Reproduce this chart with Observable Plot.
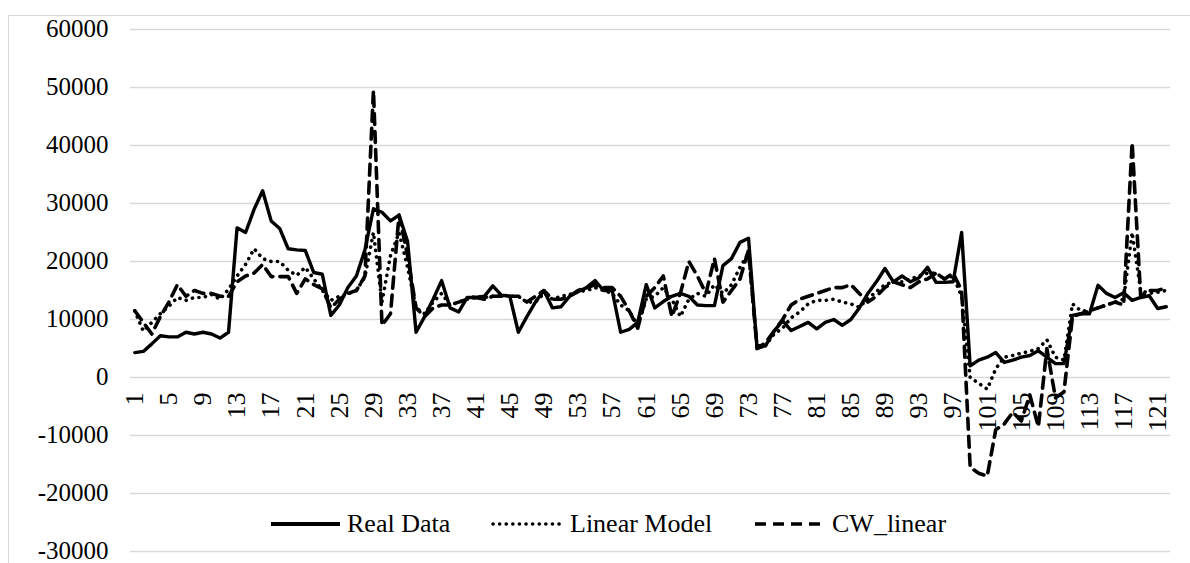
<!DOCTYPE html>
<html>
<head>
<meta charset="utf-8">
<script src="https://cdn.jsdelivr.net/npm/d3@7"></script>
<script src="https://cdn.jsdelivr.net/npm/@observablehq/plot@0.6"></script>
<style>
  body { margin: 0; background: white; }
  #wrap { position: relative; width: 1190px; height: 563px; overflow: hidden; font-family: 'Liberation Serif', 'Times New Roman', serif; }
  .border-top { position: absolute; left: 8px; top: 15px; width: 1182px; height: 0; border-top: 1.5px solid #d9d9d9; }
  .border-left { position: absolute; left: 8px; top: 15px; width: 0; height: 548px; border-left: 1.5px solid #d9d9d9; }
  .leg { position: absolute; font-size: 26px; line-height: 26px; color: black; white-space: nowrap; }
  .legsvg { position: absolute; }
</style>
</head>
<body>
<div id="wrap"></div>
<script>
// Category labels on the x axis
const xTicks = [1,5,9,13,17,21,25,29,33,37,41,45,49,53,57,61,65,69,73,77,81,85,89,93,97,101,105,109,113,117,121];
// Y axis ticks
const yTicks = [-30000,-20000,-10000,0,10000,20000,30000,40000,50000,60000];
const seriesNames = ["Real Data", "Linear Model", "CW_linear"];

// Real Data
const realData = [
  4300, 4500, 5800, 7200, 7000, 7000, 7800, 7500, 7800, 7500,
  6800, 7800, 25800, 25000, 29000, 32200, 27000, 25700, 22200, 22000,
  21900, 18100, 17800, 10700, 12500, 15500, 17500, 22000, 29100, 28500,
  27000, 28000, 23500, 7800, 10500, 13500, 16700, 12000, 11300, 13800,
  13800, 14000, 15800, 14200, 14000, 7800, 10500, 13000, 15000, 12000,
  12200, 14000, 14800, 15500, 16700, 15000, 15000, 7800, 8300, 9500,
  16000, 12000, 13100, 14000, 14500, 14000, 12500, 12400, 12400, 19300,
  20500, 23300, 24000, 5000, 5500, 8000, 9800, 8100, 8800, 9500,
  8400, 9500, 10000, 9000, 10000, 12000, 14500, 16500, 18800, 16500,
  17500, 16500, 17200, 19000, 16400, 16400, 16500, 25000, 2000, 3000,
  3500, 4300, 2600, 3000, 3500, 3800, 4600, 3500, 2400, 2400,
  10700, 11000, 11000, 15900, 14500, 13800, 14600, 13300, 13800, 14100,
  11900, 12200
];

// Linear Model
const linearModel = [
  11500, 8000, 9500, 11000, 12300, 13800, 13300, 13800, 13800, 14300,
  13500, 15200, 17500, 19500, 22200, 20500, 20000, 20000, 18500, 17600,
  19000, 17000, 15000, 13300, 14000, 14400, 15000, 17300, 25000, 13000,
  21000, 25000, 19000, 12000, 11000, 13000, 14500, 12500, 13000, 13500,
  14000, 13800, 14000, 14300, 14000, 14000, 13000, 13000, 14500, 13500,
  14000, 14300, 14800, 15000, 15500, 15000, 14500, 12500, 11500, 9000,
  13500, 14000, 15500, 13500, 10500, 13500, 14500, 14000, 16000, 14500,
  16000, 19000, 21500, 5500, 5500, 7500, 8500, 10300, 11300, 12700,
  13300, 13300, 13500, 13000, 12700, 12100, 13600, 14800, 16000, 16500,
  16500, 17000, 17500, 18000, 18000, 17000, 17500, 14000, 0, -1000,
  -2000, 1500, 3500, 3800, 4200, 4500, 5000, 6500, 3500, 3000,
  12700, 11500, 11500, 12000, 12500, 13000, 13500, 25000, 15000, 14500,
  14700, 15000
];

// CW_linear
const cwLinear = [
  11500, 9500, 7500, 10500, 13000, 16000, 14000, 15000, 14500, 14500,
  14000, 14000, 16500, 17500, 18000, 19500, 17400, 17400, 17400, 14500,
  17000, 16000, 15300, 12000, 13500, 14500, 15000, 17500, 49500, 9000,
  11000, 28000, 21000, 12000, 10500, 12000, 12500, 12500, 13000, 13500,
  13800, 13500, 14000, 14000, 14000, 14000, 13000, 14000, 15000, 13500,
  13500, 14000, 15000, 15500, 16000, 15500, 15500, 14000, 11500, 8500,
  14000, 15500, 17500, 10500, 14500, 20000, 17500, 14500, 20500, 13000,
  15000, 17000, 22000, 5000, 6000, 8000, 10000, 12500, 13500, 14000,
  14500, 15000, 15500, 15500, 16000, 14500, 13000, 14000, 15500, 16500,
  16000, 15500, 16500, 17000, 18000, 17000, 18000, 15000, -15500, -16500,
  -17000, -9000, -8000, -6000, -7500, -3000, -8500, 5000, -3500, -2500,
  10500, 11000, 11500, 12000, 12500, 13000, 12500, 40500, 14000, 15000,
  15000, 15500
];

const rows = realData.map((v, k) => ({i: k + 1, real: v, lin: linearModel[k], cw: cwLinear[k]}));

const chart = Plot.plot({
  width: 1190,
  height: 563,
  marginLeft: 130,
  marginRight: 20,
  marginTop: 29,
  marginBottom: 12,
  x: {domain: [0.5, 122.5], axis: null},
  y: {domain: [-30000, 60000], axis: null},
  style: {fontFamily: "'Liberation Serif', 'Times New Roman', serif", fontSize: "26px", color: "black", background: "white", overflow: "visible"},
  marks: [
    Plot.gridY(yTicks, {stroke: "#d9d9d9", strokeOpacity: 1, strokeWidth: 1.5}),
    Plot.axisY(yTicks, {tickSize: 0, tickPadding: 22, fontSize: 25, dy: -1, tickFormat: d => String(d), label: null}),
    Plot.text(xTicks, {x: d => d, y: 0, text: d => String(d), rotate: -90, textAnchor: "end", dy: 15, fontSize: 26, fill: "black"}),
    Plot.line(rows, {x: "i", y: "cw", stroke: "black", strokeWidth: 3.6, strokeDasharray: "11,7"}),
    Plot.line(rows, {x: "i", y: "lin", stroke: "black", strokeWidth: 3.6, strokeDasharray: "0.1,6.5", strokeLinecap: "round"}),
    Plot.line(rows, {x: "i", y: "real", stroke: "black", strokeWidth: 3.4, strokeLinejoin: "round"})
  ]
});

const wrap = document.getElementById("wrap");
wrap.appendChild(chart);
wrap.insertAdjacentHTML("beforeend", `<div class="border-top"></div><div class="border-left"></div>`);

// Legend (inside the plot area at the bottom)
const legendItems = [
  {name: seriesNames[0], x1: 271, x2: 340, tx: 347, dash: null, cap: "butt"},
  {name: seriesNames[1], x1: 493, x2: 560, tx: 570, dash: "0.1,6.5", cap: "round"},
  {name: seriesNames[2], x1: 755, x2: 827, tx: 832, dash: "11,7", cap: "butt"}
];
const ly = 524;
for (const it of legendItems) {
  const w = it.x2 - it.x1 + 4;
  wrap.insertAdjacentHTML("beforeend",
    `<svg class="legsvg" style="left:${it.x1 - 2}px;top:${ly - 5}px" width="${w}" height="10">
       <line x1="2" x2="${w - 2}" y1="5" y2="5" stroke="black" stroke-width="${it.dash ? 3.6 : 4}" ${it.dash ? `stroke-dasharray="${it.dash}"` : ""} stroke-linecap="${it.cap}"/>
     </svg>
     <div class="leg" style="left:${it.tx}px;top:${ly - 13}px">${it.name}</div>`);
}
</script>
</body>
</html>
